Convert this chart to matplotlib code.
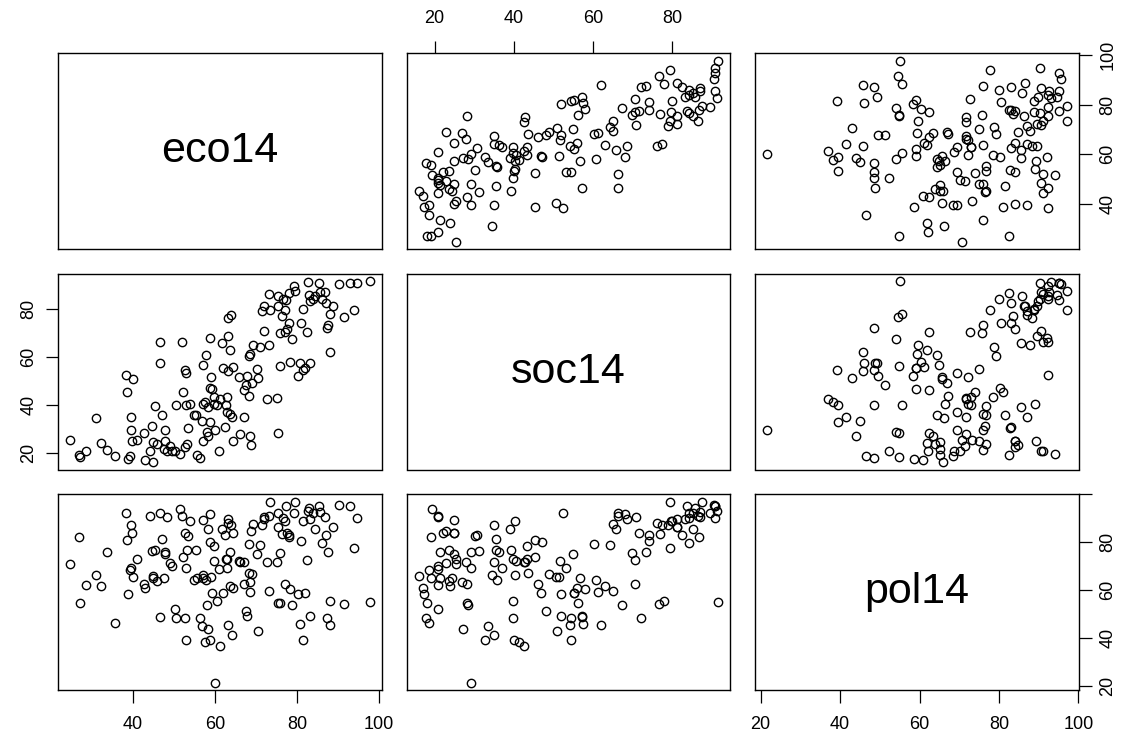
import matplotlib
matplotlib.use("Agg")
import matplotlib.pyplot as plt

plt.rcParams['font.family'] = ['Liberation Sans', 'DejaVu Sans']

# globalisation sub-indices, one value per country
eco14 = [
    24.7, 26.9, 27.1, 28.6, 31.0, 32.2, 33.6, 35.5, 38.3, 38.5,
    38.7, 39.3, 39.5, 39.5, 39.7, 40.1, 41.1, 42.6, 43.0, 44.2,
    44.6, 45.0, 45.0, 45.3, 45.8, 46.5, 46.5, 47.0, 47.6, 47.9,
    47.9, 48.3, 49.1, 49.5, 50.3, 50.5, 51.5, 51.9, 52.2, 52.7,
    52.7, 52.9, 53.0, 53.1, 53.5, 53.8, 54.8, 55.4, 55.7, 56.4,
    56.8, 57.1, 57.1, 57.2, 57.6, 57.9, 58.0, 58.4, 58.4, 58.7,
    58.7, 58.8, 59.1, 59.3, 59.7, 59.7, 60.1, 60.5, 60.9, 61.3,
    61.7, 61.9, 62.5, 62.8, 62.9, 62.9, 63.1, 63.3, 63.3, 63.7,
    63.7, 63.9, 64.1, 64.4, 64.5, 65.8, 66.0, 67.0, 67.2, 67.6,
    67.8, 68.2, 68.2, 68.5, 68.6, 68.8, 69.0, 69.4, 70.2, 70.6,
    71.1, 71.5, 71.9, 72.0, 72.8, 73.3, 73.3, 73.5, 75.1, 75.3,
    75.3, 75.5, 75.8, 75.9, 76.3, 76.6, 77.0, 77.2, 77.4, 77.6,
    78.0, 78.0, 78.2, 78.8, 79.2, 79.6, 80.2, 80.7, 81.0, 81.5,
    81.5, 82.0, 82.4, 82.7, 82.9, 83.1, 83.1, 83.9, 84.5, 85.3,
    85.7, 86.1, 86.9, 87.2, 87.3, 87.5, 88.0, 88.2, 88.8, 90.2,
    91.6, 92.9, 94.0, 94.7, 97.8]

soc14 = [
    25.5, 19.2, 18.1, 20.8, 34.4, 23.9, 21.3, 18.5, 52.4, 45.4,
    17.3, 18.5, 34.9, 29.3, 25.0, 50.7, 25.3, 28.1, 17.1, 20.8,
    31.1, 16.0, 24.4, 39.3, 23.6, 66.4, 57.3, 35.6, 21.5, 29.3,
    25.0, 20.8, 22.9, 20.8, 20.8, 39.8, 19.4, 66.4, 45.4, 54.5,
    22.2, 53.1, 40.0, 23.6, 30.2, 40.2, 35.8, 35.6, 19.0, 17.8,
    33.4, 56.6, 25.0, 40.4, 41.2, 60.8, 28.5, 27.1, 39.1, 68.0,
    47.2, 32.7, 51.4, 46.8, 43.3, 40.5, 29.3, 39.8, 20.8, 42.6,
    65.7, 55.2, 30.7, 39.8, 37.0, 43.3, 54.2, 68.7, 76.2, 62.9,
    36.3, 77.3, 34.9, 55.9, 25.0, 51.7, 27.9, 46.1, 35.1, 48.2,
    51.9, 60.3, 43.7, 61.2, 26.9, 23.0, 48.9, 65.0, 54.9, 51.0,
    64.3, 79.0, 70.8, 81.1, 42.6, 65.0, 86.4, 79.4, 42.8, 28.1,
    85.3, 81.3, 56.3, 69.9, 76.9, 84.3, 79.7, 70.6, 83.6, 71.7,
    74.1, 86.7, 58.0, 67.3, 89.5, 87.4, 51.9, 57.5, 74.1, 54.5,
    79.9, 55.2, 70.6, 91.2, 85.7, 57.3, 83.2, 84.2, 85.3, 90.9,
    87.0, 84.3, 87.1, 82.5, 72.0, 73.4, 61.9, 77.9, 81.1, 90.5,
    76.6, 90.9, 79.4, 90.9, 91.6]

pol14 = [
    70.8, 82.4, 54.8, 62.2, 66.2, 61.8, 76.0, 46.4, 92.4, 80.9,
    58.5, 68.5, 87.1, 69.4, 84.1, 65.7, 73.2, 62.5, 60.8, 91.0,
    76.4, 65.9, 65.2, 76.8, 64.0, 92.4, 48.9, 81.6, 65.2, 76.0,
    75.0, 90.6, 71.5, 70.1, 52.3, 48.5, 94.1, 91.0, 74.0, 48.5,
    84.1, 69.4, 39.4, 76.8, 82.7, 89.0, 64.3, 76.8, 65.2, 48.5,
    45.0, 65.0, 89.4, 66.4, 38.3, 64.3, 54.1, 43.9, 85.5, 92.0,
    80.2, 39.4, 65.7, 59.0, 78.5, 72.2, 21.6, 55.5, 68.7, 36.9,
    85.5, 59.0, 83.0, 72.9, 69.4, 72.9, 45.7, 89.6, 88.2, 61.8,
    76.0, 87.1, 41.5, 61.1, 84.1, 72.2, 71.8, 62.5, 71.8, 51.3,
    49.5, 79.2, 67.1, 59.4, 63.4, 84.8, 66.9, 87.8, 75.0, 42.9,
    78.8, 87.1, 90.6, 89.6, 71.8, 59.7, 91.0, 97.0, 71.8, 54.8,
    92.4, 86.2, 54.8, 75.7, 83.6, 90.3, 88.9, 62.5, 95.0, 84.1,
    83.0, 82.4, 60.4, 54.1, 92.4, 97.0, 58.3, 46.1, 80.6, 39.2,
    88.9, 59.0, 72.6, 93.1, 94.5, 49.2, 89.9, 92.4, 85.7, 95.0,
    92.7, 79.9, 90.6, 83.0, 48.5, 76.0, 45.7, 55.5, 86.5, 95.6,
    54.5, 95.2, 77.8, 90.3, 55.0]

names = ['eco14', 'soc14', 'pol14']
cols = [eco14, soc14, pol14]
tick_pos = [[40, 60, 80, 100], [20, 40, 60, 80], [20, 40, 60, 80, 100]]

W, H = 1128.0, 742.0
fig = plt.figure(figsize=(W / 100, H / 100), dpi=100)

# panel grid in pixels (like R pairs(): equal panels, small gaps)
col_x = [58.3, 406.7, 755.0]
row_y = [53.3, 274.0, 494.3]
pw, ph = 323.5, 195.5


def pad_range(v):
    # R default: data range extended by 4% on each side
    lo, hi = min(v), max(v)
    d = 0.04 * (hi - lo)
    return lo - d, hi + d


for i in range(3):
    for j in range(3):
        ax = fig.add_axes([col_x[j] / W, 1 - (row_y[i] + ph) / H, pw / W, ph / H])
        ax.set_xlim(pad_range(cols[j]))
        ax.set_ylim(pad_range(cols[i]))

        if i == j:
            ax.text(0.5, 0.5, names[i], transform=ax.transAxes,
                    ha='center', va='center', fontsize=31)
        else:
            ax.plot(cols[j], cols[i], 'o', mfc='none', mec='black',
                    ms=6.0, mew=1.0, ls='none')

        # axes alternate around the outside like pairs()
        top = (i == 0 and j % 2 == 1)
        bottom = (i == 2 and j % 2 == 0)
        left = (j == 0 and i % 2 == 1)
        right = (j == 2 and i % 2 == 0)

        ax.set_xticks(tick_pos[j])
        ax.set_yticks(tick_pos[i])
        if i == 2 and j == 2:
            ax.set_yticklabels(['20', '40', '60', '80', ''])

        ax.tick_params(axis='x', top=top, bottom=bottom, labeltop=top, labelbottom=bottom,
                       direction='out', length=9, width=0.9, labelsize=13, pad=10)
        ax.tick_params(axis='y', left=left, right=right, labelleft=left, labelright=right,
                       direction='out', length=9, width=0.9, labelsize=13, pad=6,
                       labelrotation=90)
        for lab in ax.get_yticklabels():
            lab.set_va('center')

        for s in ax.spines.values():
            s.set_linewidth(1.0)

fig.savefig('out.png', dpi=100)
